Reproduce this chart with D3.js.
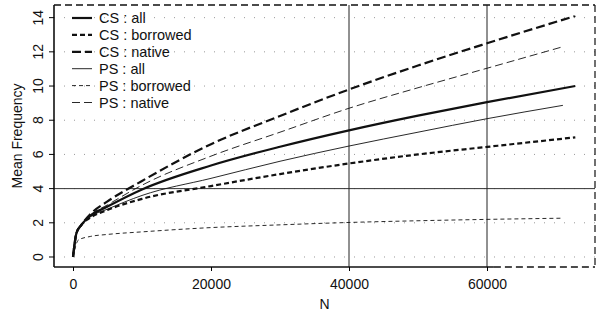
<!DOCTYPE html>
<html>
<head>
<meta charset="utf-8">
<script src="https://cdn.jsdelivr.net/npm/d3@7"></script>
<style>
  body { margin: 0; background: #fff; }
  text { font-family: "Liberation Sans", Arial, sans-serif; fill: #111; }
</style>
</head>
<body>
<div id="chart"></div>
<script>
// datos
const nCS = [0, 500, 1200, 2500, 5000, 10000, 20000, 30000, 40000, 50000, 60000, 72800]
const nPS = [0, 500, 1200, 2500, 5000, 10000, 20000, 30000, 40000, 50000, 60000, 71000]
const nPSb = [0, 800, 2500, 5000, 10000, 20000, 30000, 40000, 50000, 60000, 71000]

const csAll      = [0, 1.4, 1.87, 2.4, 2.95, 3.95, 5.35, 6.45, 7.41, 8.27, 9.06, 10.0]
const csBorrowed = [0, 1.4, 1.87, 2.3, 2.75, 3.4, 4.15, 4.85, 5.47, 6.0, 6.44, 7.0]
const csNative   = [0, 1.4, 1.87, 2.5, 3.25, 4.45, 6.6, 8.25, 9.8, 11.2, 12.5, 14.1]
const psAll      = [0, 1.4, 1.87, 2.35, 2.8, 3.6, 4.6, 5.6, 6.49, 7.3, 8.09, 8.87]
const psBorrowed = [0, 1.0, 1.2, 1.32, 1.47, 1.72, 1.88, 2.02, 2.12, 2.2, 2.27]
const psNative   = [0, 1.4, 1.87, 2.45, 3.05, 4.2, 5.9, 7.3, 8.7, 9.9, 11.04, 12.3]

const seriesNames = ["CS : all", "CS : borrowed", "CS : native", "PS : all", "PS : borrowed", "PS : native"]
const xTicks = [0, 20000, 40000, 60000]
const yTicks = [0, 2, 4, 6, 8, 10, 12, 14]

const width = 597
const height = 314
const box = {left: 54, right: 595, top: 5, bottom: 267}

const svg = d3.select("div#chart").append("svg").attr("width", width).attr("height", height)

const x = d3.scaleLinear().domain([-2754, 75652]).range([box.left, box.right])
const y = d3.scaleLinear().domain([-0.585, 14.74]).range([box.bottom, box.top])

// estilos: CS grueso, PS fino; all solido, borrowed guion corto, native guion largo
const series = [
    {name: seriesNames[0], n: nCS, v: csAll, w: 2.2, dash: null},
    {name: seriesNames[1], n: nCS, v: csBorrowed, w: 2.2, dash: "5,3"},
    {name: seriesNames[2], n: nCS, v: csNative, w: 2.2, dash: "9,4"},
    {name: seriesNames[3], n: nPS, v: psAll, w: 0.9, dash: null},
    {name: seriesNames[4], n: nPSb, v: psBorrowed, w: 0.9, dash: "4,3"},
    {name: seriesNames[5], n: nPS, v: psNative, w: 0.9, dash: "8,4"}
]

// rejilla punteada (solo horizontal)
const grid = svg.append("g").attr("class", "grid")
grid.selectAll("line.h").data(yTicks).enter().append("line")
    .attr("x1", box.left).attr("x2", box.right)
    .attr("y1", d => y(d)).attr("y2", d => y(d))
    .attr("stroke", "#999").attr("stroke-width", 1).attr("stroke-dasharray", "1,9")

// lineas de referencia solidas
grid.append("line")
    .attr("x1", box.left).attr("x2", box.right).attr("y1", y(4)).attr("y2", y(4))
    .attr("stroke", "#333").attr("stroke-width", 1)
grid.selectAll("line.ref").data([40000, 60000]).enter().append("line")
    .attr("x1", d => x(d)).attr("x2", d => x(d))
    .attr("y1", box.top).attr("y2", box.bottom)
    .attr("stroke", "#222").attr("stroke-width", 1)

// curvas
const line = d3.line().x(d => x(d[0])).y(d => y(d[1])).curve(d3.curveMonotoneX)
const elementGroup = svg.append("g").attr("class", "elementGroup")
series.forEach(s => {
    elementGroup.append("path")
        .datum(s.n.map((n, i) => [n, s.v[i]]))
        .attr("d", line)
        .attr("fill", "none")
        .attr("stroke", "#111")
        .attr("stroke-width", s.w)
        .attr("stroke-dasharray", s.dash)
})

// caja (izquierda y abajo solidas, arriba y derecha discontinuas)
const frame = svg.append("g").attr("class", "frame")
frame.append("line").attr("x1", box.left).attr("x2", box.left).attr("y1", box.top).attr("y2", box.bottom)
    .attr("stroke", "#111").attr("stroke-width", 1.6)
frame.append("line").attr("x1", box.left).attr("x2", x(61000)).attr("y1", box.bottom).attr("y2", box.bottom)
    .attr("stroke", "#111").attr("stroke-width", 1.6)
frame.append("line").attr("x1", x(61000)).attr("x2", box.right).attr("y1", box.bottom).attr("y2", box.bottom)
    .attr("stroke", "#111").attr("stroke-width", 1.6).attr("stroke-dasharray", "7,4")
frame.append("line").attr("x1", box.left).attr("x2", box.right).attr("y1", box.top).attr("y2", box.top)
    .attr("stroke", "#111").attr("stroke-width", 1.6).attr("stroke-dasharray", "7,4")
frame.append("line").attr("x1", box.right).attr("x2", box.right).attr("y1", box.top).attr("y2", box.bottom)
    .attr("stroke", "#111").attr("stroke-width", 1.2).attr("stroke-dasharray", "7,4")

// ejes
const xAxis = d3.axisBottom(x).tickValues(xTicks).tickFormat(d3.format("d")).tickSize(4).tickPadding(8)
const yAxis = d3.axisLeft(y).tickValues(yTicks).tickSize(5).tickPadding(4)

const xAxisGroup = svg.append("g").attr("transform", `translate(0, ${box.bottom})`).call(xAxis)
const yAxisGroup = svg.append("g").attr("transform", `translate(${box.left}, 0)`).call(yAxis)
xAxisGroup.select(".domain").remove()
yAxisGroup.select(".domain").remove()
xAxisGroup.selectAll("text").style("font-size", "14px").attr("fill", "#111")
yAxisGroup.selectAll("text")
    .style("font-size", "14px").attr("fill", "#111")
    .attr("text-anchor", "middle")
    .attr("transform", d => `rotate(-90, -16, ${y(d)})`)
    .attr("x", -16).attr("dy", "0.35em")
    .attr("y", d => y(d))
yAxisGroup.selectAll(".tick").attr("transform", null)
yAxisGroup.selectAll(".tick line").attr("y1", d => y(d)).attr("y2", d => y(d))

// titulos de ejes
svg.append("text").attr("x", (box.left + box.right) / 2).attr("y", 309)
    .attr("text-anchor", "middle").style("font-size", "14px").text("N")
svg.append("text").attr("transform", `translate(22, ${(box.top + box.bottom) / 2}) rotate(-90)`)
    .attr("text-anchor", "middle").style("font-size", "14px").text("Mean Frequency")

// leyenda
const legend = svg.append("g").attr("class", "legend")
series.forEach((s, i) => {
    const ly = 18 + i * 16.9
    legend.append("line").attr("x1", 72).attr("x2", 92).attr("y1", ly).attr("y2", ly)
        .attr("stroke", "#111").attr("stroke-width", s.w).attr("stroke-dasharray", s.dash)
    legend.append("text").attr("x", 99).attr("y", ly).attr("dy", "0.36em")
        .style("font-size", "14.5px").text(s.name)
})
</script>
</body>
</html>
